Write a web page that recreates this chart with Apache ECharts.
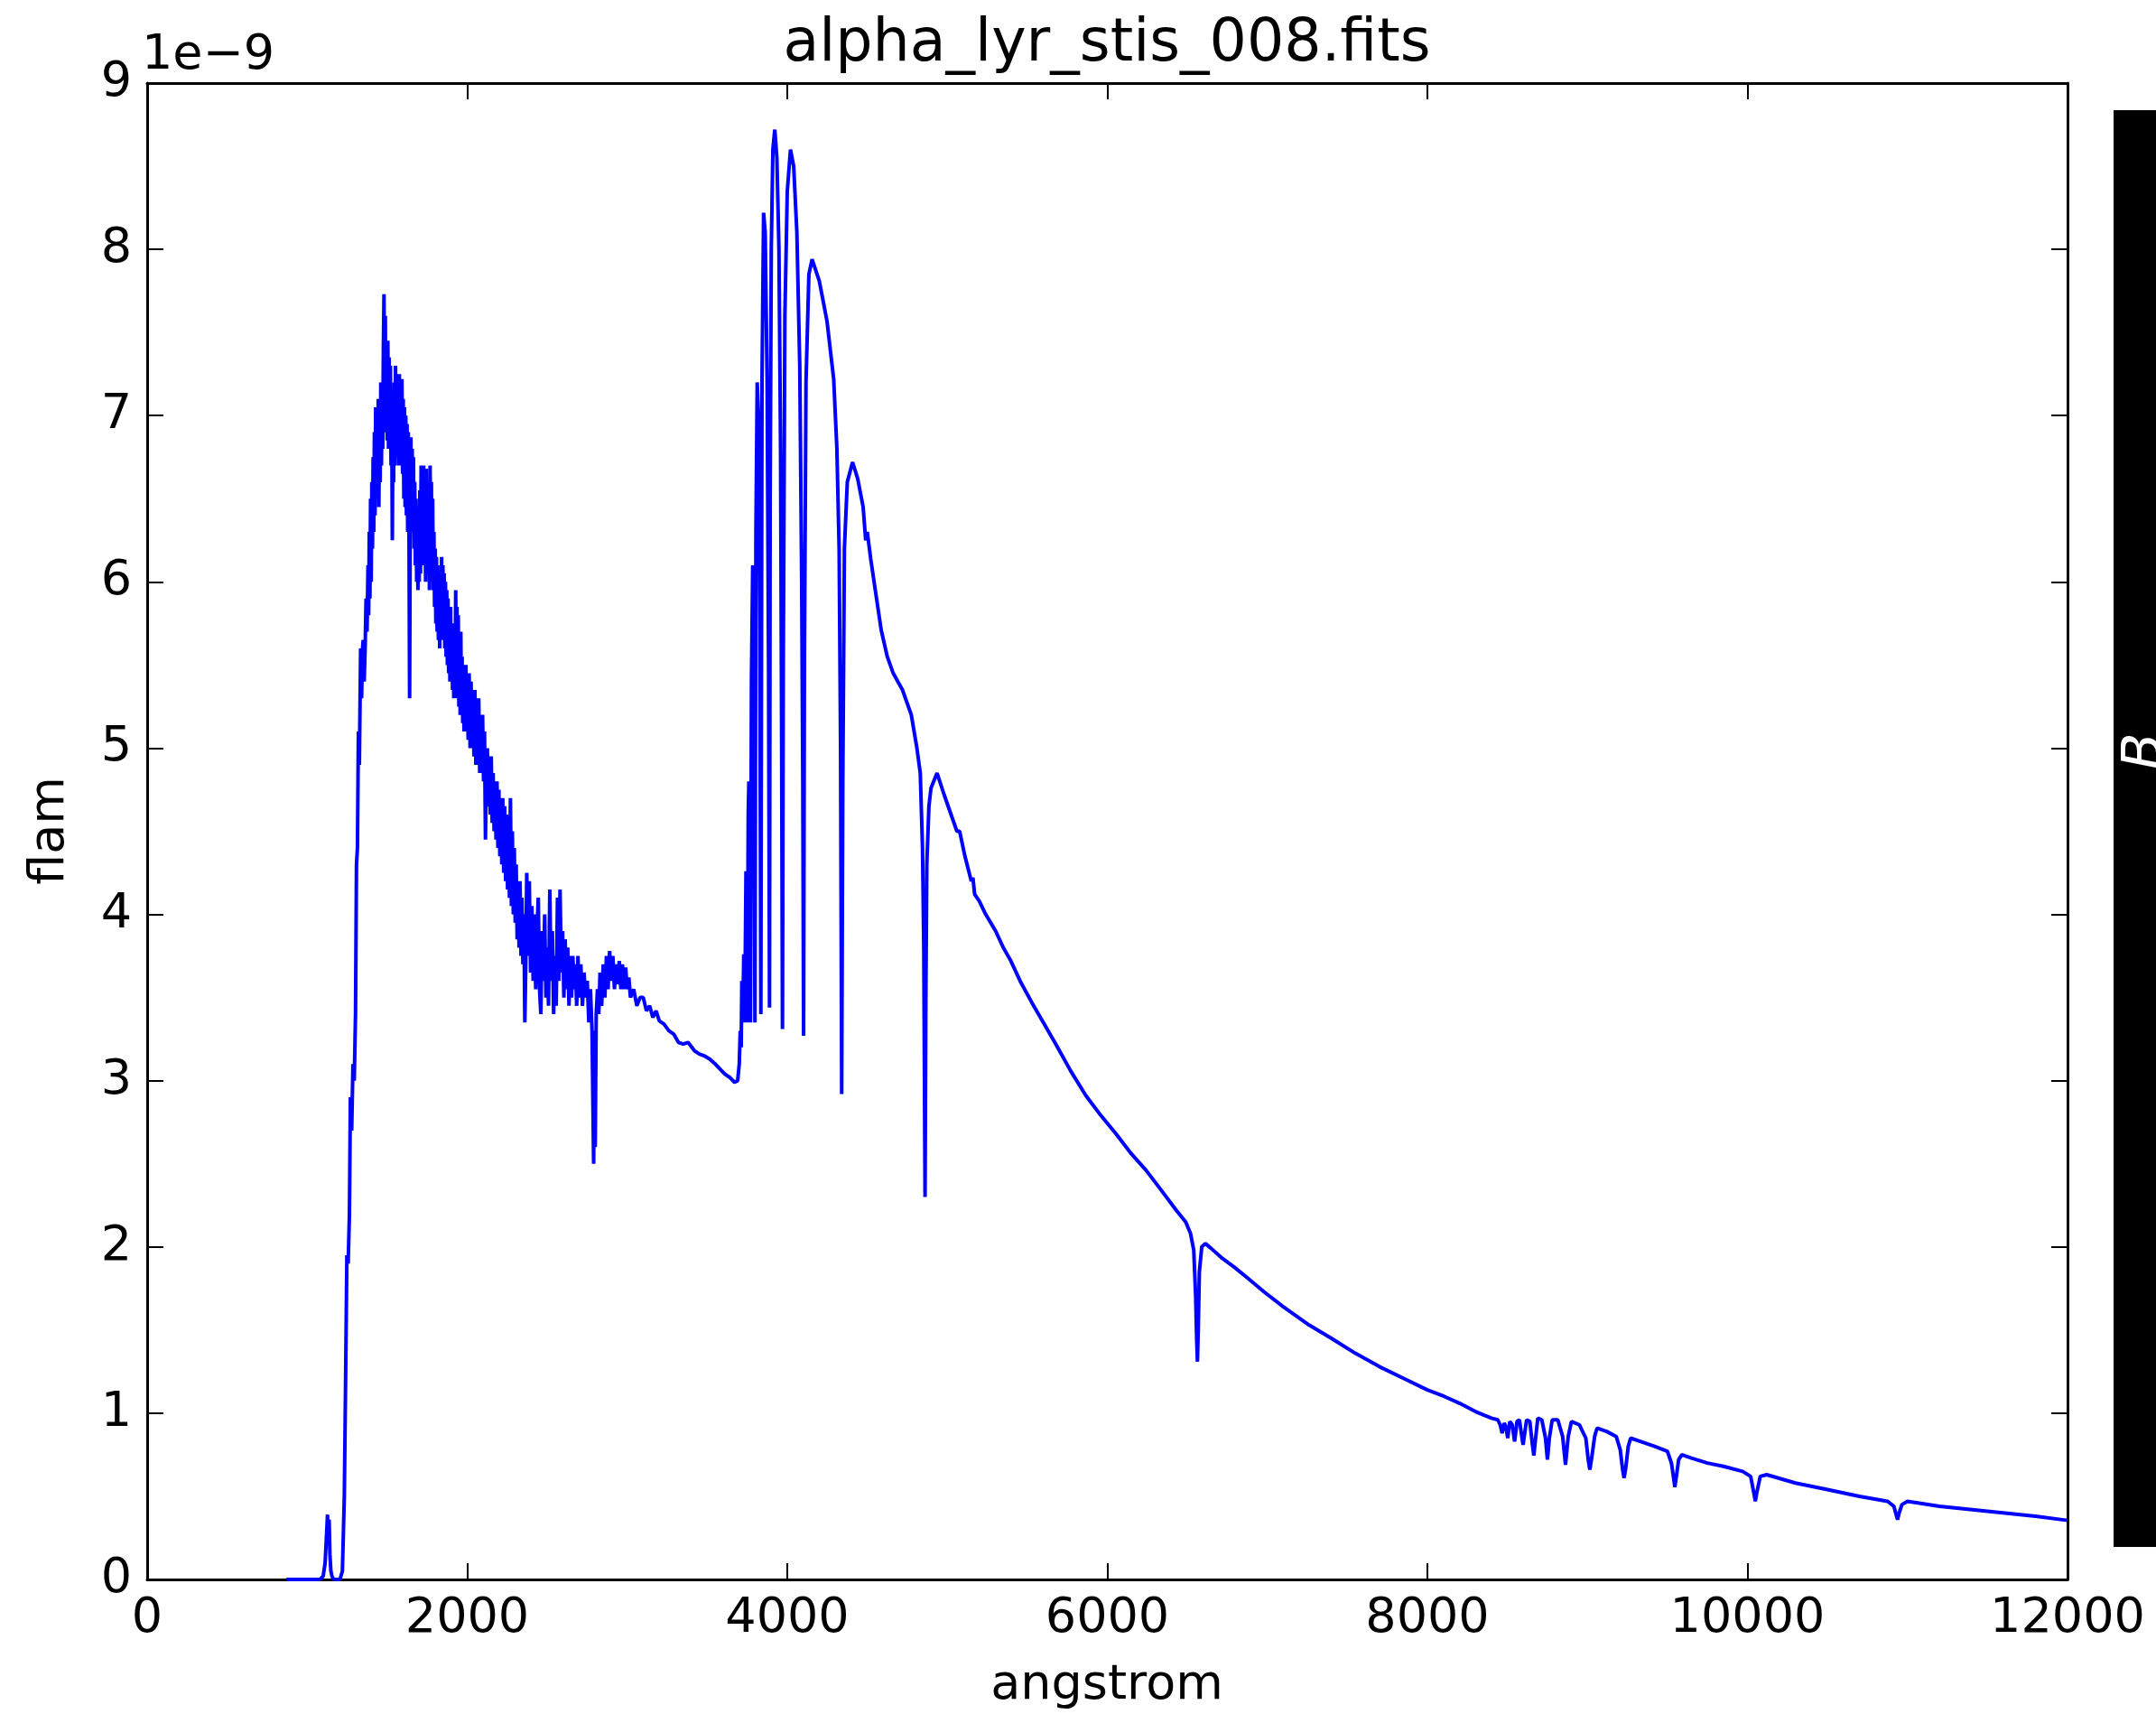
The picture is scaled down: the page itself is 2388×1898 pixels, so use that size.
<!DOCTYPE html>
<html><head><meta charset="utf-8">
<script src="https://cdn.jsdelivr.net/npm/echarts@6/dist/echarts.min.js"></script>
<style>html,body{margin:0;padding:0;background:#fff}#c{width:2388px;height:1898px}</style>
</head><body><div id="c"></div>
<script>
const chartTitle = 'alpha_lyr_stis_008.fits';
const xName = 'angstrom';
const yName = 'flam';
const yExponent = '1e\u22129';
const xTicks = [0, 2000, 4000, 6000, 8000, 10000, 12000];
const yTicks = [0, 1, 2, 3, 4, 5, 6, 7, 8, 9];

// [wavelength (angstrom), flux (1e-9 flam)]
const lymanEdge = [[870,0],[1080,0],[1100,0.02],[1112,0.1],[1120,0.25],[1127,0.39],[1132,0.22],[1137,0.36],[1142,0.15],[1148,0.05],[1155,0.02],[1165,0],[1185,0],[1205,0],[1220,0.05],[1232,0.5],[1240,1.2],[1248,1.95],[1256,1.9],[1264,2.2],[1270,2.9],[1278,2.7],[1286,3.1],[1294,3.0],[1302,3.4],[1308,4.3],[1314,4.4],[1320,5.1],[1326,4.9],[1334,5.6],[1340,5.3]];

const farUV = [[1346,5.6],[1350,5.65],[1356,5.4],[1362,5.6],[1368,5.9],[1374,5.7],[1380,6.1],[1384,5.8],[1388,6.3],[1392,5.9],[1396,6.5],[1400,6.0],[1404,6.6],[1408,6.2],[1412,6.75],[1416,6.3],[1420,6.9],[1424,6.4],[1428,7.05],[1432,6.5],[1436,7.0],[1440,6.6],[1444,7.1],[1448,6.45],[1452,7.05],[1456,6.6],[1460,7.2],[1464,6.7],[1468,7.15],[1472,6.8],[1476,7.4],[1480,7.73],[1484,6.9],[1488,7.6],[1492,6.95],[1496,7.4],[1500,6.85],[1504,7.45],[1508,6.8],[1512,7.35],[1516,6.9],[1520,7.3],[1524,6.7],[1528,7.1],[1532,6.25],[1536,7.0],[1540,6.6],[1544,7.2],[1548,6.7],[1552,7.3],[1556,6.75],[1560,7.25],[1564,6.8],[1568,7.2],[1572,6.7],[1576,7.25],[1580,6.75],[1584,7.15],[1588,6.7],[1592,7.22],[1596,6.65],[1600,7.1],[1604,6.5],[1608,7.05],[1612,6.45],[1616,7.0],[1620,6.4],[1624,6.95],[1628,6.3],[1632,6.9],[1636,6.35],[1640,5.3],[1644,6.4],[1648,6.87],[1652,6.3],[1656,6.8],[1660,6.3],[1664,6.75],[1668,6.2],[1672,6.6],[1676,6.1],[1680,6.5],[1684,6.0],[1688,6.45],[1692,5.95],[1696,6.4],[1700,6.0],[1704,6.55],[1708,6.05],[1712,6.7],[1716,6.1],[1720,6.65],[1724,6.15],[1728,6.7],[1732,6.1],[1736,6.6],[1740,6.0],[1744,6.68],[1748,6.1],[1752,6.6],[1756,6.05],[1760,6.5],[1764,5.95],[1768,6.7],[1772,6.1],[1776,6.6],[1780,6.0],[1784,6.5],[1788,5.95],[1792,6.3],[1796,5.85],[1800,6.2],[1804,5.75],[1808,6.15],[1812,5.7],[1816,6.1],[1820,5.65],[1824,6.05],[1828,5.6],[1832,6.0],[1836,5.65],[1840,6.15],[1844,5.7],[1848,6.1],[1852,5.65],[1856,6.05],[1860,5.6],[1864,6.0],[1868,5.55],[1872,5.95],[1876,5.5],[1880,5.9],[1884,5.45],[1888,5.8],[1892,5.4],[1896,5.85],[1900,5.4],[1904,5.75],[1908,5.35],[1912,5.7],[1916,5.3],[1920,5.65],[1924,5.3],[1928,5.95],[1932,5.35],[1936,5.85],[1940,5.3],[1944,5.8],[1948,5.25],[1952,5.6],[1956,5.2],[1960,5.7],[1964,5.2],[1968,5.55],[1972,5.15],[1976,5.5],[1980,5.1],[1984,5.45],[1988,5.1],[1992,5.5],[1996,5.1],[2000,5.4],[2006,5.05],[2012,5.45],[2018,5.0],[2024,5.4],[2030,5.0],[2036,5.35],[2042,4.95],[2048,5.35],[2054,4.9],[2060,5.3],[2066,4.9],[2072,5.3],[2078,4.85],[2084,5.2],[2090,4.85],[2096,5.2],[2102,4.8],[2108,5.1],[2114,4.45],[2120,4.9],[2126,5.0],[2132,4.65],[2138,4.95],[2144,4.6],[2150,4.95],[2156,4.55],[2162,4.85],[2168,4.5],[2174,4.8],[2180,4.45],[2186,4.8],[2192,4.4],[2198,4.75],[2204,4.35],[2210,4.7],[2216,4.3],[2222,4.7],[2228,4.25],[2234,4.65],[2240,4.2],[2246,4.6],[2252,4.15],[2258,4.5],[2264,4.1],[2270,4.7],[2276,4.05],[2282,4.5],[2288,4.0],[2294,4.4],[2300,3.95],[2306,4.3],[2312,3.85],[2318,4.2],[2324,3.8],[2330,4.2],[2336,3.75],[2342,4.1],[2348,3.7],[2354,4.0],[2360,3.35],[2366,3.7],[2372,4.25],[2380,3.75],[2388,4.2],[2396,3.65],[2404,4.05],[2412,3.6],[2420,4.0],[2428,3.55],[2436,3.9],[2444,4.1],[2452,3.55],[2460,3.4],[2468,3.9],[2476,3.6],[2484,4.0],[2492,3.5],[2500,3.8],[2508,3.45],[2516,4.15],[2524,3.6],[2532,3.9],[2540,3.4],[2548,3.75],[2556,3.45],[2564,4.1],[2572,3.6],[2580,4.15],[2588,3.65],[2596,3.9],[2604,3.5],[2612,3.85],[2620,3.55],[2628,3.8],[2636,3.45],[2644,3.75],[2652,3.5],[2660,3.75],[2668,3.55],[2676,3.7],[2684,3.45],[2692,3.75],[2700,3.5],[2710,3.7],[2720,3.45],[2730,3.65],[2740,3.5],[2750,3.6],[2760,3.35],[2770,3.55],[2780,3.3],[2790,2.5],[2796,3.3],[2800,2.6],[2806,3.4],[2814,3.55],[2822,3.4],[2830,3.65],[2840,3.45],[2850,3.7],[2860,3.5],[2870,3.75],[2880,3.55],[2890,3.78],[2900,3.6],[2910,3.75],[2920,3.55],[2930,3.7],[2940,3.58],[2950,3.72],[2960,3.55],[2970,3.7],[2980,3.55],[2990,3.68],[3000,3.55],[3010,3.62],[3020,3.5],[3040,3.55],[3060,3.45],[3080,3.5]];

const nearUV = [[3100,3.5],[3120,3.42],[3140,3.45],[3160,3.38],[3180,3.42],[3200,3.36],[3230,3.34],[3260,3.3],[3290,3.28],[3320,3.23],[3350,3.22],[3380,3.23],[3420,3.18],[3450,3.16],[3480,3.15],[3515,3.13],[3550,3.1],[3580,3.07],[3610,3.04],[3640,3.02],[3670,2.99],[3690,3.0],[3700,3.1]];

const balmer = [[3706,3.3],[3712,3.2],[3716,3.6],[3722,3.35],[3728,3.76],[3734,3.35],[3742,4.26],[3750,3.35],[3756,4.6],[3760,4.8],[3765,4.3],[3770,3.35],[3776,5.4],[3784,6.1],[3790,5.6],[3798,3.35],[3804,6.3],[3812,7.2],[3820,7.0],[3828,5.8],[3835,3.4],[3842,7.2],[3852,8.22],[3862,8.1],[3874,7.2],[3883,5.5],[3889,3.44],[3893,6.5],[3900,8.0],[3910,8.6],[3922,8.72],[3935,8.55],[3948,8.0],[3958,6.8],[3965,5.0],[3970,3.31],[3975,5.5],[3985,7.6],[4000,8.35],[4020,8.6],[4040,8.5],[4060,8.1],[4078,7.3],[4090,6.0],[4097,4.8],[4102,3.27],[4107,5.5],[4117,7.2],[4135,7.85],[4155,7.94],[4200,7.81],[4248,7.57],[4290,7.22],[4310,6.8],[4324,6.2],[4333,5.0],[4340,2.92],[4347,4.8],[4357,6.2],[4375,6.6],[4408,6.72],[4440,6.62],[4474,6.45],[4490,6.25],[4500,6.3],[4521,6.14],[4550,5.95],[4587,5.71],[4625,5.55],[4662,5.45],[4720,5.35],[4775,5.2],[4810,5.0],[4831,4.85],[4845,4.4],[4853,3.8],[4861,2.3],[4866,3.5],[4872,4.3],[4885,4.65],[4898,4.76],[4936,4.85]];

const visible = [[4980,4.72],[5020,4.61],[5060,4.5],[5077,4.5],[5110,4.35],[5150,4.2],[5160,4.22],[5171,4.12],[5200,4.08],[5240,4.0],[5302,3.9],[5350,3.8],[5397,3.72],[5460,3.59],[5528,3.47],[5600,3.35],[5678,3.22],[5770,3.06],[5866,2.91],[5960,2.79],[6054,2.68],[6150,2.56],[6243,2.46],[6330,2.35],[6431,2.22],[6490,2.15],[6520,2.08],[6540,1.98],[6552,1.7],[6558,1.45],[6563,1.31],[6568,1.5],[6575,1.85],[6590,2.0],[6613,2.02],[6650,1.99],[6720,1.93],[6791,1.88],[6880,1.81],[6979,1.73],[7100,1.64],[7261,1.53],[7400,1.45],[7550,1.36],[7700,1.28],[7850,1.21],[8000,1.14],[8107,1.1],[8200,1.06],[8300,1.01],[8400,0.97]];

const paschen = [[8440,0.96],[8455,0.93],[8467,0.88],[8480,0.94],[8490,0.92],[8502,0.85],[8515,0.95],[8530,0.93],[8545,0.83],[8560,0.95],[8575,0.96],[8590,0.86],[8598,0.81],[8608,0.88],[8620,0.96],[8640,0.95],[8655,0.82],[8665,0.745],[8675,0.84],[8690,0.97],[8715,0.96],[8738,0.85],[8750,0.72],[8762,0.85],[8780,0.96],[8815,0.96],[8845,0.86],[8863,0.69],[8880,0.86],[8900,0.95],[8950,0.93],[8990,0.85],[9005,0.72],[9015,0.66],[9025,0.72],[9045,0.86],[9060,0.91],[9120,0.89],[9180,0.86],[9205,0.78],[9220,0.66],[9229,0.61],[9238,0.66],[9255,0.8],[9270,0.85],[9330,0.83],[9420,0.8],[9500,0.77],[9525,0.7],[9540,0.6],[9546,0.555],[9553,0.6],[9570,0.72],[9590,0.75],[9650,0.73],[9750,0.7],[9850,0.68],[9970,0.65],[10020,0.62],[10040,0.52],[10049,0.47],[10058,0.52],[10080,0.62],[10120,0.63],[10300,0.58],[10500,0.54],[10700,0.5],[10876,0.47],[10915,0.44],[10932,0.38],[10938,0.36],[10945,0.39],[10965,0.45],[11000,0.47],[11200,0.44],[11500,0.41],[11800,0.38],[12000,0.355]];

const spectrum = [].concat(lymanEdge, farUV, nearUV, balmer, visible, paschen);

const FONT = '"DejaVu Sans", "Liberation Sans", sans-serif';
const axisLineStyle = { color: '#000', width: 3 };
const tickStyle = { color: '#000', width: 2 };

function xAxisDef(pos, showLabel) {
  return {
    type: 'value', position: pos, min: xTicks[0], max: xTicks[xTicks.length - 1],
    interval: xTicks[1] - xTicks[0],
    axisLine: { show: true, onZero: false, lineStyle: axisLineStyle },
    axisTick: { show: true, inside: true, length: 18, lineStyle: tickStyle },
    axisLabel: { show: showLabel, fontSize: 54, fontFamily: FONT, color: '#000', margin: 17,
      formatter: v => String(v) },
    splitLine: { show: false }
  };
}
function yAxisDef(pos, showLabel) {
  return {
    type: 'value', position: pos, min: yTicks[0], max: yTicks[yTicks.length - 1],
    interval: yTicks[1] - yTicks[0],
    axisLine: { show: true, onZero: false, lineStyle: axisLineStyle },
    axisTick: { show: true, inside: true, length: 18, lineStyle: tickStyle },
    axisLabel: { show: showLabel, fontSize: 54, fontFamily: FONT, color: '#000', margin: 17,
      formatter: v => String(v) },
    splitLine: { show: false }
  };
}

const chart = echarts.init(document.getElementById('c'), null, { renderer: 'canvas' });
chart.setOption({
  animation: false,
  backgroundColor: '#ffffff',
  grid: { left: 163, right: 98, top: 92, bottom: 149, containLabel: false },
  xAxis: [xAxisDef('bottom', true), xAxisDef('top', false)],
  yAxis: [yAxisDef('left', true), yAxisDef('right', false)],
  series: [{
    type: 'line', xAxisIndex: 0, yAxisIndex: 0, data: spectrum,
    showSymbol: false, symbol: 'none', clip: true,
    lineStyle: { color: '#0000ff', width: 4 }, z: 3
  }],
  graphic: [
    { type: 'rect', shape: { x: 2341, y: 122, width: 60, height: 1591 }, style: { fill: '#000' } },
    { type: 'text', x: 2377, y: 832, rotation: Math.PI / 2,
      style: { text: 'B', font: 'italic 60px ' + FONT, fill: '#fff', align: 'center', verticalAlign: 'middle' } },
    { type: 'text', x: 1226, y: 50,
      style: { text: chartTitle, font: '65px ' + FONT, fill: '#000', align: 'center', verticalAlign: 'middle' } },
    { type: 'text', x: 157, y: 62,
      style: { text: yExponent, font: '54px ' + FONT, fill: '#000', align: 'left', verticalAlign: 'middle' } },
    { type: 'text', x: 1226, y: 1867,
      style: { text: xName, font: '54px ' + FONT, fill: '#000', align: 'center', verticalAlign: 'middle' } },
    { type: 'text', x: 56, y: 920, rotation: Math.PI / 2,
      style: { text: yName, font: '54px ' + FONT, fill: '#000', align: 'center', verticalAlign: 'middle' } }
  ]
});
</script>
</body></html>
